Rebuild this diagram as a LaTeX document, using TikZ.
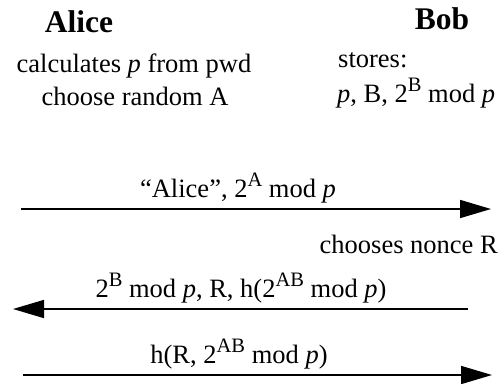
\documentclass[tikz,border=0pt]{standalone}
\usepackage{fontspec}
\setmainfont{Liberation Serif}
\usetikzlibrary{arrows.meta}
% raised upright exponent, about four fifths of the text size
\newcommand{\sps}[1]{\raisebox{11pt}{\fontsize{20.5}{20}\selectfont #1}}
\begin{document}
\begin{tikzpicture}[x=1pt,y=-1pt,
  txt/.style={inner sep=0pt,font=\fontsize{26.5}{30}\selectfont},
  party/.style={inner sep=0pt,font=\fontsize{31.5}{34}\selectfont\bfseries},
  msg/.style={line width=1.6pt,-{Triangle[length=31pt,width=18pt]}}]
\useasboundingbox (0,0) rectangle (502,383);
% participants
\node[party,anchor=base] (alice) at (79,32) {Alice};
\node[party,anchor=base] (bob) at (442,29) {Bob};
% local computations
\node[txt,anchor=base] (calc) at (134,72) {calculates \textit{p} from pwd};
\node[txt,anchor=base] (chooseA) at (135,105) {choose random A};
\node[txt,anchor=base west] (stores) at (338,67) {stores:};
\node[txt,anchor=base west] (storesv) at (337,102) {\textit{p}, B, 2\sps{B} mod \textit{p}};
\node[txt,anchor=base east] (nonce) at (498,253) {chooses nonce R};
% message end points
\coordinate (m1s) at (21,209);
\coordinate (m1e) at (491,209);
\coordinate (m2s) at (468,309);
\coordinate (m2e) at (13,309);
\coordinate (m3s) at (23,375);
\coordinate (m3e) at (492,375);
% messages
\draw[msg] (m1s) -- (m1e);
\draw[msg] (m2s) -- (m2e);
\draw[msg] (m3s) -- (m3e);
\node[txt,anchor=base] (l1) at (238,197) {``Alice'', 2\sps{A} mod \textit{p}};
\node[txt,anchor=base] (l2) at (241,297) {2\sps{B} mod \textit{p}, R, h(2\sps{AB} mod \textit{p})};
\node[txt,anchor=base] (l3) at (239,363) {h(R, 2\sps{AB} mod \textit{p})};
\end{tikzpicture}
\end{document}
